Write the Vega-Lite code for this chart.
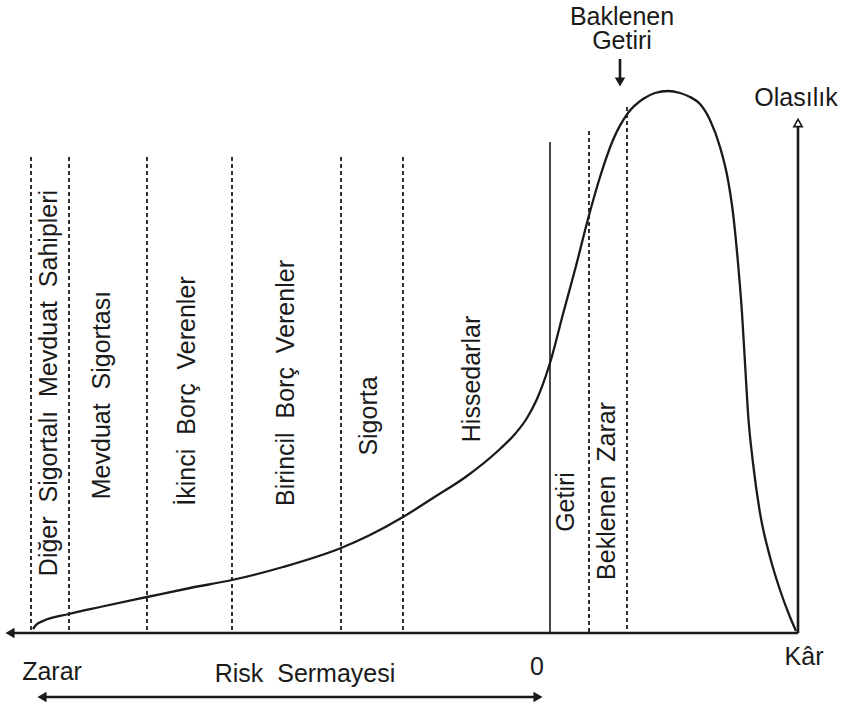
{
  "$schema": "https://vega.github.io/schema/vega-lite/v6.json",
  "width": 841,
  "height": 706,
  "autosize": {"type": "fit", "contains": "padding"},
  "padding": 0,
  "background": "white",
  "config": {"view": {"stroke": null}},
  "datasets": {
    "dashed": [
      {"x": 31, "y": 157, "x2": 31, "y2": 633},
      {"x": 69, "y": 157, "x2": 69, "y2": 633},
      {"x": 147, "y": 157, "x2": 147, "y2": 633},
      {"x": 232, "y": 157, "x2": 232, "y2": 633},
      {"x": 341, "y": 157, "x2": 341, "y2": 633},
      {"x": 403, "y": 157, "x2": 403, "y2": 633},
      {"x": 589, "y": 131, "x2": 589, "y2": 633},
      {"x": 627, "y": 107, "x2": 627, "y2": 633}
    ],
    "solid": [
      {"x": 550, "y": 142, "x2": 550, "y2": 633}
    ],
    "thick": [
      {"x": 12, "y": 633, "x2": 798, "y2": 633},
      {"x": 798, "y": 633, "x2": 798, "y2": 126},
      {"x": 620, "y": 59, "x2": 620, "y2": 79},
      {"x": 44, "y": 697, "x2": 536, "y2": 697}
    ],
    "curve": [
      {"x": 33, "y": 629}, {"x": 36, "y": 625}, {"x": 43, "y": 621}, {"x": 69, "y": 614},
      {"x": 100, "y": 607}, {"x": 147, "y": 597}, {"x": 190, "y": 588}, {"x": 232, "y": 580},
      {"x": 283, "y": 567}, {"x": 341, "y": 548}, {"x": 370, "y": 535}, {"x": 403, "y": 517},
      {"x": 433, "y": 498}, {"x": 467, "y": 476}, {"x": 500, "y": 449}, {"x": 515, "y": 434},
      {"x": 527, "y": 418}, {"x": 537, "y": 399}, {"x": 550, "y": 363}, {"x": 563, "y": 314},
      {"x": 576, "y": 266}, {"x": 588, "y": 219}, {"x": 600, "y": 177}, {"x": 613, "y": 140},
      {"x": 628, "y": 113}, {"x": 643, "y": 99}, {"x": 655, "y": 93}, {"x": 668, "y": 91},
      {"x": 680, "y": 93}, {"x": 690, "y": 97}, {"x": 700, "y": 104}, {"x": 710, "y": 120},
      {"x": 720, "y": 147}, {"x": 728, "y": 180}, {"x": 733, "y": 213}, {"x": 738, "y": 263},
      {"x": 742, "y": 313}, {"x": 745, "y": 363}, {"x": 748, "y": 413}, {"x": 753, "y": 463},
      {"x": 760, "y": 513}, {"x": 770, "y": 557}, {"x": 780, "y": 590}, {"x": 790, "y": 617},
      {"x": 796, "y": 631}
    ],
    "heads": [
      {"x": 10, "y": 633, "shape": "triangle-left"},
      {"x": 42, "y": 697, "shape": "triangle-left"},
      {"x": 538, "y": 697, "shape": "triangle-right"},
      {"x": 620, "y": 82, "shape": "triangle-down"}
    ],
    "hollow": [
      {"x": 798, "y": 123}
    ],
    "vtext": [
      {"label": "Diğer \u00a0Sigortalı \u00a0Mevduat \u00a0Sahipleri", "x": 49, "y": 383},
      {"label": "Mevduat \u00a0Sigortası", "x": 102, "y": 395},
      {"label": "İkinci \u00a0Borç \u00a0Verenler", "x": 187, "y": 391},
      {"label": "Birincil \u00a0Borç \u00a0Verenler", "x": 286, "y": 383},
      {"label": "Sigorta", "x": 369, "y": 416},
      {"label": "Hissedarlar", "x": 472, "y": 379},
      {"label": "Getiri", "x": 566, "y": 502},
      {"label": "Beklenen \u00a0Zarar", "x": 607, "y": 491}
    ],
    "htext": [
      {"label": "Baklenen\nGetiri", "x": 622, "y": 17},
      {"label": "Olasılık", "x": 796, "y": 98},
      {"label": "Zarar", "x": 52, "y": 672},
      {"label": "Risk \u00a0Sermayesi", "x": 305, "y": 674},
      {"label": "0", "x": 537, "y": 667},
      {"label": "Kâr", "x": 804, "y": 657}
    ]
  },
  "encoding": {
    "x": {"field": "x", "type": "quantitative", "scale": {"domain": [0, 841], "nice": false, "zero": false}, "axis": null},
    "y": {"field": "y", "type": "quantitative", "scale": {"domain": [0, 706], "nice": false, "zero": false, "reverse": true}, "axis": null}
  },
  "layer": [
    {
      "data": {"name": "dashed"},
      "mark": {"type": "rule", "color": "#1a1a1a", "strokeWidth": 1.8, "strokeDash": [4, 3]},
      "encoding": {"x2": {"field": "x2"}, "y2": {"field": "y2"}}
    },
    {
      "data": {"name": "solid"},
      "mark": {"type": "rule", "color": "#1a1a1a", "strokeWidth": 1.6},
      "encoding": {"x2": {"field": "x2"}, "y2": {"field": "y2"}}
    },
    {
      "data": {"name": "thick"},
      "mark": {"type": "rule", "color": "#1a1a1a", "strokeWidth": 2.6},
      "encoding": {"x2": {"field": "x2"}, "y2": {"field": "y2"}}
    },
    {
      "data": {"name": "curve"},
      "mark": {"type": "line", "color": "#1a1a1a", "strokeWidth": 2.3, "interpolate": "monotone"},
      "encoding": {}
    },
    {
      "data": {"name": "heads"},
      "mark": {"type": "point", "filled": true, "color": "#1a1a1a", "opacity": 1, "size": 110},
      "encoding": {"shape": {"field": "shape", "type": "nominal", "scale": null, "legend": null}}
    },
    {
      "data": {"name": "hollow"},
      "mark": {"type": "point", "shape": "triangle-up", "filled": false, "fill": "white", "fillOpacity": 1, "stroke": "#1a1a1a", "strokeWidth": 1.6, "opacity": 1, "size": 70}
    },
    {
      "data": {"name": "vtext"},
      "mark": {"type": "text", "angle": 270, "align": "center", "baseline": "middle", "font": "Liberation Sans", "fontSize": 25, "color": "#1a1a1a"},
      "encoding": {"text": {"field": "label"}}
    },
    {
      "data": {"name": "htext"},
      "mark": {"type": "text", "align": "center", "baseline": "middle", "lineBreak": "\n", "lineHeight": 24, "font": "Liberation Sans", "fontSize": 25, "color": "#1a1a1a"},
      "encoding": {"text": {"field": "label"}}
    }
  ]
}
